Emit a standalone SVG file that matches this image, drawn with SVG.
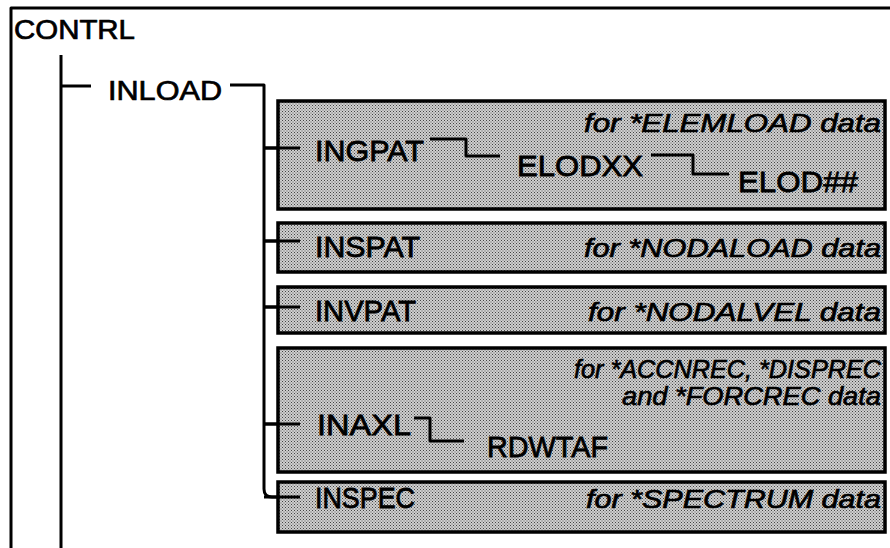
<svg xmlns="http://www.w3.org/2000/svg" width="890" height="548" viewBox="0 0 890 548">
<defs>
<pattern id="dots" width="3" height="3" patternUnits="userSpaceOnUse">
<rect width="3" height="3" fill="#d0d0d0"/>
<rect x="0" y="0" width="1" height="1" fill="#444"/>
<rect x="1.5" y="1.5" width="1" height="1" fill="#555"/>
</pattern>
</defs>
<style>
.ln{fill:none;stroke:#000;stroke-width:3;stroke-linejoin:round;stroke-linecap:butt}
.box{fill:url(#dots);stroke:#000;stroke-width:3.5}
.lbl{font-family:"Liberation Sans",Arial,sans-serif;font-size:30px;fill:#000;stroke:#000;stroke-width:0.8}
.top{font-family:"Liberation Sans",Arial,sans-serif;font-size:27px;fill:#000;stroke:#000;stroke-width:0.7}
.it{font-family:"Liberation Sans",Arial,sans-serif;font-size:26px;font-style:italic;fill:#000;stroke:#000;stroke-width:0.7;text-anchor:end}
</style>
<rect width="890" height="548" fill="#fff"/>
<g id="connectors">
<path class="ln" d="M11,548 V8 H890"/>
<path class="ln" d="M61,55 V548"/>
<path class="ln" d="M61,86 H91"/>
<path class="ln" d="M230,85 H264 V489 Q264,497 272,497 H300"/>
<path class="ln" d="M264,148 H300"/>
<path class="ln" d="M264,241 H300"/>
<path class="ln" d="M264,307 H300"/>
<path class="ln" d="M264,424 H300"/>
</g>
<g id="CONTRL"><text class="top" x="14" y="39" textLength="121" lengthAdjust="spacingAndGlyphs">CONTRL</text></g>
<g id="INLOAD"><text class="top" x="108" y="100" textLength="114" lengthAdjust="spacingAndGlyphs">INLOAD</text></g>
<g id="box-INGPAT">
<rect class="box" x="278" y="101" width="607" height="108"/>
<path class="ln" d="M264,148 H300"/>
<text class="it" x="881" y="132" textLength="297" lengthAdjust="spacingAndGlyphs">for *ELEMLOAD data</text>
<text class="lbl" x="315" y="161" textLength="109" lengthAdjust="spacingAndGlyphs">INGPAT</text>
<path class="ln" d="M430,139 H466 V156 H500"/>
<text class="lbl" x="517" y="176" textLength="126" lengthAdjust="spacingAndGlyphs">ELODXX</text>
<path class="ln" d="M651,155 H693 V174 H729"/>
<text class="lbl" x="738" y="192" textLength="120" lengthAdjust="spacingAndGlyphs">ELOD##</text>
</g>
<g id="box-INSPAT">
<rect class="box" x="278" y="223" width="607" height="49"/>
<path class="ln" d="M264,241 H300"/>
<text class="lbl" x="315" y="257" textLength="105" lengthAdjust="spacingAndGlyphs">INSPAT</text>
<text class="it" x="881" y="257" textLength="297" lengthAdjust="spacingAndGlyphs">for *NODALOAD data</text>
</g>
<g id="box-INVPAT">
<rect class="box" x="278" y="287" width="607" height="46"/>
<path class="ln" d="M264,307 H300"/>
<text class="lbl" x="315" y="321" textLength="101" lengthAdjust="spacingAndGlyphs">INVPAT</text>
<text class="it" x="881" y="321" textLength="293" lengthAdjust="spacingAndGlyphs">for *NODALVEL data</text>
</g>
<g id="box-INAXL">
<rect class="box" x="278" y="348" width="607" height="124"/>
<path class="ln" d="M264,424 H300"/>
<text class="it" x="881" y="378" textLength="307" lengthAdjust="spacingAndGlyphs">for *ACCNREC, *DISPREC</text>
<text class="it" x="881" y="405" textLength="259" lengthAdjust="spacingAndGlyphs">and *FORCREC data</text>
<text class="lbl" x="317" y="435" textLength="94" lengthAdjust="spacingAndGlyphs">INAXL</text>
<path class="ln" d="M414,418 H430 V441 H464"/>
<text class="lbl" x="487" y="457" textLength="121" lengthAdjust="spacingAndGlyphs">RDWTAF</text>
</g>
<g id="box-INSPEC">
<rect class="box" x="278" y="482" width="607" height="50"/>
<path class="ln" d="M264,497 H300"/>
<text class="lbl" x="315" y="508" textLength="100" lengthAdjust="spacingAndGlyphs">INSPEC</text>
<text class="it" x="881" y="508" textLength="295" lengthAdjust="spacingAndGlyphs">for *SPECTRUM data</text>
</g>
</svg>
